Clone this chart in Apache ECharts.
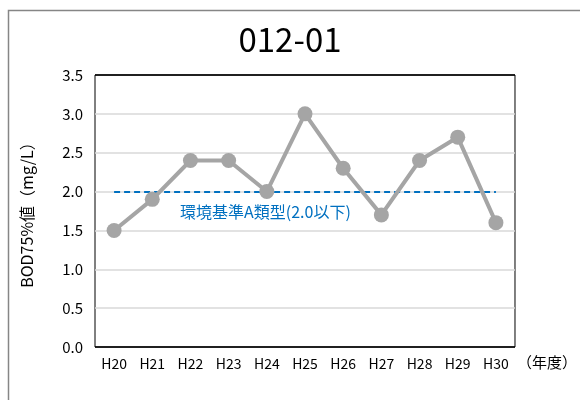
<!DOCTYPE html>
<html><head><meta charset="utf-8">
<script src="https://cdn.jsdelivr.net/npm/echarts@6/dist/echarts.min.js"></script>
<style>html,body{margin:0;padding:0;background:#fff}#c{width:580px;height:400px}</style>
</head><body><div id="c"></div>
<script>
const titleText = '012-01';
const categories = ['H20','H21','H22','H23','H24','H25','H26','H27','H28','H29','H30'];
const bodValues = [1.5, 1.9, 2.4, 2.4, 2.0, 3.0, 2.3, 1.7, 2.4, 2.7, 1.6];
const standardValue = 2.0;
const standardLabel = '環境基準A類型(2.0以下)';
const yAxisName = 'BOD75%値（mg/L）';
const xAxisName = '（年度）';
const yTicks = {min: 0, max: 3.5, interval: 0.5};

const FONT = "'Noto Sans CJK JP',sans-serif";
const G = '#D9D9D9';
const chart = echarts.init(document.getElementById('c'), null, {renderer: 'canvas'});
chart.setOption({
  animation: false,
  backgroundColor: '#fff',
  graphic: [{
    type: 'rect', left: 6, top: 8, silent: true,
    shape: {x: 0, y: 0, width: 620, height: 420},
    style: {fill: 'none', stroke: '#868686', lineWidth: 1.5}
  }],
  title: {
    text: titleText, left: 'center', top: 18,
    textStyle: {fontFamily: FONT, fontSize: 33, fontWeight: 'normal', color: '#000'}
  },
  grid: {left: 95, top: 75, right: 63, bottom: 53, show: true, borderColor: '#000', borderWidth: 1, backgroundColor: 'transparent'},
  xAxis: {
    type: 'category', data: categories, boundaryGap: true,
    name: xAxisName, nameLocation: 'end', nameGap: 2,
    nameTextStyle: {fontFamily: FONT, fontSize: 15, color: '#000', verticalAlign: 'top', padding: [8, 0, 0, 0]},
    axisLine: {show: false}, axisTick: {show: false},
    axisLabel: {fontFamily: FONT, fontSize: 14, color: '#000', margin: 10}
  },
  yAxis: {
    type: 'value', min: yTicks.min, max: yTicks.max, interval: yTicks.interval,
    name: yAxisName, nameLocation: 'middle', nameGap: 60, nameRotate: 90,
    nameTextStyle: {fontFamily: FONT, fontSize: 16, color: '#000'},
    axisLine: {show: false}, axisTick: {show: false},
    axisLabel: {fontFamily: FONT, fontSize: 15, color: '#000', margin: 12, formatter: v => v.toFixed(1)},
    splitLine: {lineStyle: {color: ['#000', G, G, G, G, G, G, '#000'], width: 1.5}}
  },
  series: [{
    type: 'line', data: bodValues,
    symbol: 'circle', symbolSize: 15,
    lineStyle: {color: '#A5A5A5', width: 4},
    itemStyle: {color: '#A5A5A5'},
    z: 3,
    markLine: {
      silent: true, symbol: ['none', 'none'],
      lineStyle: {color: '#0070C0', type: [6, 4], width: 2},
      label: {
        show: true, position: 'insideStartBottom', distance: [66, 12],
        formatter: standardLabel,
        fontFamily: FONT, fontSize: 16, color: '#0070C0'
      },
      data: [[{coord: [categories[0], standardValue]}, {coord: [categories[categories.length - 1], standardValue]}]],
      z: 2
    }
  }]
});
</script></body></html>
